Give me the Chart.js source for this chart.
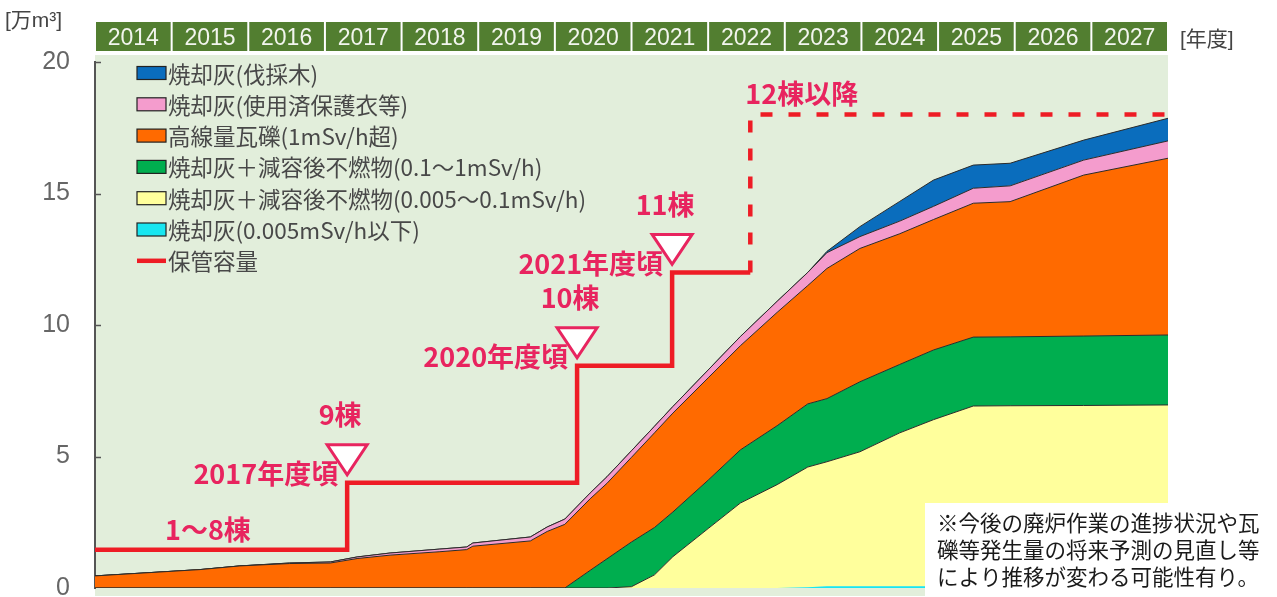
<!DOCTYPE html>
<html>
<head>
<meta charset="utf-8">
<script src="https://cdn.jsdelivr.net/npm/chart.js@4.4.1/dist/chart.umd.min.js"></script>
<style>
  html, body { margin: 0; padding: 0; background: #fff; overflow: hidden; }
  #wrap { width: 1277px; height: 597px; }
</style>
</head>
<body>
<div id="wrap"><canvas id="myChart" width="1277" height="597"></canvas></div>
<script>
// fiscal years shown in the header
var years = [2014, 2015, 2016, 2017, 2018, 2019, 2020, 2021, 2022, 2023, 2024, 2025, 2026, 2027];

var xPoints = [2014.0, 2015.37, 2015.89, 2016.54, 2017.07, 2017.42, 2017.85, 2018.5, 2018.85, 2018.93,
               2019.68, 2019.9, 2020.13, 2020.46, 2020.68, 2021.0, 2021.3, 2021.54, 2022.0, 2022.42,
               2022.9, 2023.3, 2023.55, 2023.98, 2024.5, 2024.94, 2025.46, 2025.94, 2026.9, 2028.0];

// layer thickness [万m3], bottom to top
var cyanAsh   = [0, 0, 0, 0, 0, 0, 0, 0, 0, 0, 0, 0, 0, 0, 0, 0, 0, 0, 0, 0,
                 0, 0.03, 0.07, 0.07, 0.07, 0.07, 0.07, 0.07, 0.07, 0.07];
var yellowAsh = [0, 0, 0, 0, 0, 0, 0, 0, 0, 0, 0, 0, 0, 0, 0, 0.05, 0.5, 1.19, 2.26, 3.23,
                 3.93, 4.57, 4.73, 5.11, 5.83, 6.33, 6.85, 6.86, 6.87, 6.89];
var greenAsh  = [0, 0, 0, 0, 0, 0, 0, 0, 0, 0, 0, 0, 0, 0.67, 1.11, 1.7, 1.8, 1.7, 1.84, 2.02,
                 2.24, 2.4, 2.4, 2.66, 2.6, 2.65, 2.62, 2.62, 2.64, 2.66];
var orangeRub = [0.46, 0.70, 0.84, 0.93, 0.95, 1.12, 1.25, 1.38, 1.46, 1.59, 1.79, 2.15, 2.42, 2.72, 2.87, 3.22, 3.6, 3.76, 3.89, 3.96,
                 4.31, 4.5, 4.95, 5.07, 4.97, 4.96, 5.09, 5.14, 6.12, 6.72];
var pinkAsh   = [0, 0, 0, 0.02, 0.04, 0.06, 0.08, 0.1, 0.1, 0.12, 0.15, 0.17, 0.2, 0.22, 0.25, 0.25, 0.25, 0.25, 0.3, 0.35,
                 0.42, 0.5, 0.6, 0.45, 0.48, 0.5, 0.57, 0.6, 0.57, 0.66];
var blueAsh   = [0, 0, 0, 0, 0, 0, 0, 0, 0, 0, 0, 0, 0, 0, 0, 0, 0, 0, 0, 0,
                 0, 0, 0.05, 0.38, 0.75, 1.0, 0.88, 0.86, 0.76, 0.86];

// storage capacity (step line)
var capX = [2014.0, 2017.29, 2020.29, 2021.53, 2022.55, 2022.55, 2028.0];
var capY = [1.45, 4.0, 8.45, 12.0, 12.0, 18.0, 18.0];

var seriesLabels = ['焼却灰(0.005mSv/h以下)', '焼却灰＋減容後不燃物(0.005〜0.1mSv/h)', '焼却灰＋減容後不燃物(0.1〜1mSv/h)',
                    '高線量瓦礫(1mSv/h超)', '焼却灰(使用済保護衣等)', '焼却灰(伐採木)', '保管容量'];
var seriesColors = ['#18e6f0', '#ffff9c', '#00ae4f', '#ff6a00', '#f49ccd', '#0a6dbd', '#ee1c25'];

var noteLines = ['※今後の廃炉作業の進捗状況や瓦', '礫等発生量の将来予測の見直し等', 'により推移が変わる可能性有り。'];
var markers = [
  { idx: 1, top: '9棟', bottom: '2017年度頃' },
  { idx: 2, top: '10棟', bottom: '2020年度頃' },
  { idx: 3, top: '11棟', bottom: '2021年度頃' }
];

var pink = '#e8245f';
var cjk = '"Noto Sans CJK JP", "Noto Sans"';

function pts(arr) {
  return xPoints.map(function(x, i) { return { x: x, y: arr[i] }; });
}

function areaSet(i, arr, fill) {
  return {
    label: seriesLabels[i],
    data: pts(arr),
    stack: 'waste',
    order: 1,
    fill: fill,
    backgroundColor: seriesColors[i],
    borderColor: i === 0 ? seriesColors[0] : '#2b2b2b',
    borderWidth: i === 0 ? 0 : 1,
    pointRadius: 0,
    tension: 0
  };
}

var backPlugin = {
  id: 'backPlugin',
  beforeDraw: function(chart) {
    var ctx = chart.ctx, a = chart.chartArea, xs = chart.scales.x;
    ctx.save();
    ctx.fillStyle = '#ffffff';
    ctx.fillRect(0, 0, chart.width, chart.height);
    ctx.fillStyle = '#e2eedb';
    ctx.fillRect(a.left, a.top - 7, a.right - a.left, a.bottom - a.top + 15);
    ctx.fillStyle = '#527e30';
    for (var i = 0; i < years.length; i++) {
      var x0 = xs.getPixelForValue(years[i]);
      var x1 = xs.getPixelForValue(years[i] + 1);
      ctx.fillRect(x0 + 1, 22, x1 - x0 - 2, 29);
    }
    ctx.restore();
  }
};

var frontPlugin = {
  id: 'frontPlugin',
  afterDraw: function(chart) {
    var ctx = chart.ctx, a = chart.chartArea, xs = chart.scales.x, ys = chart.scales.y;
    ctx.save();

    // inner tick marks on the y axis
    ctx.strokeStyle = '#555';
    ctx.lineWidth = 1.5;
    [5, 10, 15, 20].forEach(function(v) {
      var y = Math.round(ys.getPixelForValue(v)) + 0.5;
      ctx.beginPath(); ctx.moveTo(a.left, y); ctx.lineTo(a.left + 6, y); ctx.stroke();
    });

    // unit labels
    ctx.fillStyle = '#444';
    ctx.textBaseline = 'middle';
    ctx.textAlign = 'left';
    ctx.font = '21px "Liberation Sans", ' + cjk;
    ctx.fillText('[万m³]', 5, 21);
    ctx.fillText('[年度]', 1180, 40);

    // legend
    var order = [5, 4, 3, 2, 1, 0, 6];
    ctx.font = '22.5px ' + cjk;
    order.forEach(function(di, r) {
      var y = 73 + r * 31.3;
      if (di === 6) {
        ctx.strokeStyle = seriesColors[6];
        ctx.lineWidth = 4.5;
        ctx.beginPath(); ctx.moveTo(137, y); ctx.lineTo(166, y); ctx.stroke();
      } else {
        ctx.fillStyle = seriesColors[di];
        ctx.fillRect(137, y - 6.5, 29, 13);
        ctx.strokeStyle = '#222';
        ctx.lineWidth = 1.2;
        ctx.strokeRect(137, y - 6.5, 29, 13);
      }
      ctx.fillStyle = '#484848';
      ctx.fillText(chart.data.datasets[di].label, 168, y + 1);
    });

    // capacity annotations
    ctx.font = 'bold 27px ' + cjk;
    ctx.fillStyle = pink;
    ctx.textAlign = 'left';
    ctx.fillText('1〜8棟', a.left + 70, ys.getPixelForValue(capY[0]) - 20);
    ctx.fillText('12棟以降', xs.getPixelForValue(capX[5]) - 5, ys.getPixelForValue(capY[5]) - 21);
    markers.forEach(function(m) {
      var sx = xs.getPixelForValue(capX[m.idx]);
      var sy = ys.getPixelForValue(capY[m.idx]);
      ctx.fillStyle = pink;
      ctx.textAlign = 'right';
      ctx.fillText(m.bottom, sx - 9, sy - 9);
      ctx.textAlign = 'center';
      ctx.fillText(m.top, sx - 7, sy - 68);
      var tipY = sy - 8;
      ctx.beginPath();
      ctx.moveTo(sx - 20, tipY - 30);
      ctx.lineTo(sx + 20, tipY - 30);
      ctx.lineTo(sx, tipY);
      ctx.closePath();
      ctx.fillStyle = '#ffffff';
      ctx.fill();
      ctx.strokeStyle = pink;
      ctx.lineWidth = 3;
      ctx.lineJoin = 'miter';
      ctx.stroke();
    });

    // note box
    ctx.fillStyle = '#ffffff';
    ctx.fillRect(925, 503, 352, 94);
    ctx.fillStyle = '#1a1a1a';
    ctx.textAlign = 'left';
    ctx.font = '21.5px ' + cjk;
    noteLines.forEach(function(t, i) {
      ctx.fillText(t, 937, 523 + i * 27);
    });
    ctx.restore();
  }
};

var ctx = document.getElementById('myChart').getContext('2d');
var myChart = new Chart(ctx, {
  type: 'line',
  data: {
    datasets: [
      areaSet(0, cyanAsh, 'origin'),
      areaSet(1, yellowAsh, '-1'),
      areaSet(2, greenAsh, '-1'),
      areaSet(3, orangeRub, '-1'),
      areaSet(4, pinkAsh, '-1'),
      areaSet(5, blueAsh, '-1'),
      {
        label: seriesLabels[6],
        data: capX.map(function(x, i) { return { x: x, y: capY[i] }; }),
        stack: 'cap',
        order: 0,
        fill: false,
        stepped: 'before',
        borderColor: seriesColors[6],
        borderWidth: 4.5,
        pointRadius: 0,
        segment: {
          borderDash: function(c) { return c.p0.parsed.x >= 2022.5 ? [12, 16] : undefined; }
        }
      }
    ]
  },
  options: {
    responsive: false,
    animation: false,
    devicePixelRatio: 1,
    layout: { autoPadding: false, padding: { left: 0, right: 109, top: 0, bottom: 9 } },
    plugins: {
      legend: { display: false },
      tooltip: { enabled: false }
    },
    scales: {
      x: {
        type: 'linear',
        position: 'top',
        min: 2014,
        max: 2028,
        afterFit: function(s) { s.height = 62; },
        afterBuildTicks: function(s) {
          s.ticks = years.map(function(y) { return { value: y + 0.5 }; });
        },
        ticks: {
          autoSkip: false,
          maxRotation: 0,
          padding: 10,
          color: '#f2f5ee',
          font: { family: '"Liberation Sans", Arial', size: 23 },
          callback: function(v, i) { return String(years[i]); }
        },
        grid: { display: false, drawTicks: false },
        border: { display: false }
      },
      y: {
        stacked: true,
        min: 0,
        max: 20,
        afterFit: function(s) {
          s.width = 95;
          s.paddingTop = 0;
          s.paddingBottom = 0;
        },
        ticks: {
          stepSize: 5,
          padding: 25,
          color: '#666',
          font: { family: '"Liberation Sans", Arial', size: 25 }
        },
        grid: { display: false, drawTicks: false },
        border: { display: true, color: '#555', width: 2 }
      }
    }
  },
  plugins: [backPlugin, frontPlugin]
});
</script>
</body>
</html>
